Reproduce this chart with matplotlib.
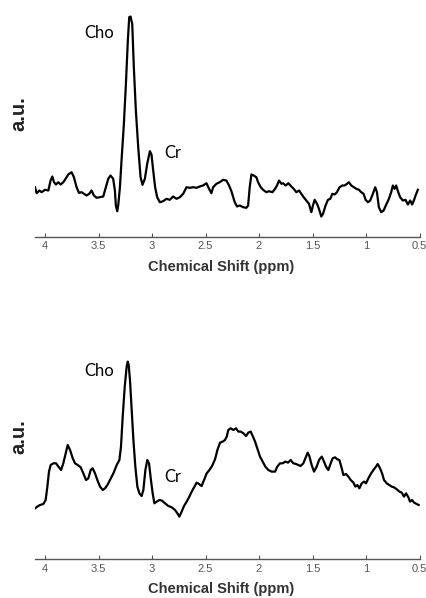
import matplotlib
matplotlib.use('Agg')
import matplotlib.pyplot as plt

# spectrum 1 (top): chemical shift in ppm and signal in a.u.
top_ppm = [4.094, 4.078, 4.053, 4.032, 4.000, 3.969, 3.948, 3.932, 3.916, 3.898,
           3.876, 3.854, 3.829, 3.808, 3.783, 3.752, 3.730, 3.705, 3.683, 3.658,
           3.636, 3.612, 3.587, 3.565, 3.543, 3.518, 3.487, 3.456, 3.431, 3.409,
           3.388, 3.363, 3.347, 3.338, 3.325, 3.316, 3.300, 3.285, 3.263, 3.244,
           3.226, 3.213, 3.201, 3.185, 3.170, 3.151, 3.129, 3.107, 3.089, 3.067,
           3.045, 3.020, 3.005, 2.989, 2.971, 2.952, 2.927, 2.896, 2.865, 2.834,
           2.803, 2.771, 2.740, 2.709, 2.678, 2.647, 2.616, 2.585, 2.554, 2.523,
           2.491, 2.467, 2.445, 2.429, 2.398, 2.367, 2.336, 2.305, 2.280, 2.258,
           2.227, 2.205, 2.180, 2.149, 2.118, 2.102, 2.087, 2.071, 2.050, 2.025,
           2.009, 1.984, 1.962, 1.931, 1.906, 1.875, 1.850, 1.832, 1.813, 1.791,
           1.776, 1.751, 1.726, 1.698, 1.676, 1.651, 1.626, 1.605, 1.583, 1.558,
           1.533, 1.511, 1.496, 1.480, 1.458, 1.440, 1.418, 1.402, 1.378, 1.356,
           1.334, 1.315, 1.294, 1.272, 1.247, 1.222, 1.200, 1.178, 1.160, 1.138,
           1.113, 1.091, 1.066, 1.045, 1.023, 1.004, 0.982, 0.961, 0.936, 0.914,
           0.898, 0.880, 0.858, 0.836, 0.811, 0.786, 0.765, 0.749, 0.733, 0.718,
           0.699, 0.681, 0.656, 0.631, 0.609, 0.587, 0.569, 0.553, 0.537, 0.516]
top_amp = [49.3, 43.3, 46.0, 44.3, 46.7, 46.0, 56.0, 60.0, 54.3, 52.0,
           54.3, 52.0, 54.3, 57.7, 62.0, 64.3, 59.3, 49.3, 43.7, 44.3,
           42.7, 41.0, 42.7, 46.0, 41.0, 38.7, 39.3, 40.0, 49.3, 57.7,
           61.0, 57.7, 46.0, 31.0, 25.3, 31.0, 49.3, 76.0, 112.7, 152.7,
           196.0, 219.3, 220.0, 212.7, 169.3, 126.0, 89.3, 59.3, 51.7, 57.7,
           72.7, 85.3, 82.0, 66.0, 49.3, 39.3, 34.3, 35.3, 37.7, 36.7,
           40.0, 37.7, 39.3, 42.7, 49.3, 48.7, 49.3, 48.7, 50.0, 51.0,
           53.3, 47.7, 43.3, 49.3, 52.7, 54.3, 56.7, 56.0, 51.0, 45.3,
           34.3, 30.0, 31.0, 29.3, 28.7, 31.0, 49.3, 62.0, 61.0, 59.3,
           54.3, 49.3, 46.7, 44.3, 45.3, 44.3, 47.7, 51.0, 56.0, 52.7,
           53.3, 51.0, 53.3, 50.0, 47.7, 44.3, 46.0, 42.7, 39.3, 36.0,
           32.7, 24.3, 31.0, 36.7, 32.7, 27.7, 20.0, 22.7, 31.0, 36.7,
           37.7, 42.7, 42.0, 44.3, 49.3, 51.0, 51.0, 52.7, 54.3, 51.0,
           49.3, 47.7, 46.7, 44.3, 42.7, 36.7, 34.3, 36.0, 42.7, 49.3,
           44.3, 29.3, 24.3, 26.0, 32.0, 37.7, 44.3, 51.0, 47.7, 51.0,
           44.3, 39.3, 36.0, 36.7, 32.0, 36.0, 32.0, 36.0, 41.0, 46.7]

# spectrum 2 (bottom)
bot_ppm = [4.093, 4.072, 4.047, 4.016, 3.994, 3.978, 3.963, 3.947, 3.922, 3.897,
           3.875, 3.850, 3.829, 3.807, 3.788, 3.766, 3.741, 3.720, 3.695, 3.667,
           3.642, 3.617, 3.595, 3.573, 3.555, 3.533, 3.511, 3.486, 3.461, 3.439,
           3.417, 3.393, 3.361, 3.330, 3.305, 3.290, 3.274, 3.255, 3.237, 3.227,
           3.218, 3.206, 3.190, 3.174, 3.156, 3.137, 3.118, 3.097, 3.081, 3.062,
           3.044, 3.028, 3.012, 2.994, 2.978, 2.956, 2.931, 2.907, 2.879, 2.847,
           2.816, 2.785, 2.763, 2.745, 2.723, 2.701, 2.676, 2.651, 2.629, 2.607,
           2.583, 2.561, 2.536, 2.514, 2.489, 2.464, 2.439, 2.411, 2.389, 2.364,
           2.340, 2.318, 2.302, 2.287, 2.265, 2.240, 2.215, 2.193, 2.171, 2.146,
           2.121, 2.100, 2.078, 2.059, 2.037, 2.016, 1.991, 1.966, 1.941, 1.913,
           1.882, 1.850, 1.829, 1.804, 1.779, 1.754, 1.729, 1.704, 1.679, 1.654,
           1.632, 1.611, 1.586, 1.561, 1.545, 1.530, 1.508, 1.486, 1.461, 1.439,
           1.414, 1.399, 1.374, 1.352, 1.330, 1.312, 1.290, 1.268, 1.249, 1.227,
           1.212, 1.187, 1.165, 1.143, 1.118, 1.100, 1.081, 1.062, 1.040, 1.019,
           1.000, 0.978, 0.956, 0.931, 0.907, 0.891, 0.869, 0.850, 0.832, 0.807,
           0.782, 0.760, 0.738, 0.713, 0.688, 0.667, 0.645, 0.626, 0.604, 0.589,
           0.570, 0.551, 0.526, 0.508]
bot_amp = [51.0, 52.7, 54.3, 55.3, 59.3, 72.7, 87.7, 94.3, 96.0, 96.0,
           92.7, 89.3, 96.0, 106.0, 114.3, 109.3, 101.0, 96.0, 94.3, 92.0,
           86.0, 79.3, 81.0, 89.3, 91.0, 86.0, 79.3, 72.7, 69.3, 71.0,
           74.3, 79.3, 86.0, 94.3, 99.3, 112.7, 142.7, 172.7, 192.7, 197.7,
           194.3, 179.3, 149.3, 119.3, 92.7, 72.7, 66.0, 63.3, 69.3, 89.3,
           99.3, 96.0, 81.0, 66.0, 56.0, 57.7, 59.3, 58.7, 56.0, 53.3,
           52.0, 49.3, 46.0, 42.7, 47.7, 53.3, 57.7, 62.7, 67.7, 72.0,
           76.7, 75.3, 73.3, 79.3, 86.0, 89.3, 93.3, 100.0, 109.3, 116.7,
           117.7, 119.3, 122.7, 129.3, 131.0, 129.3, 131.0, 127.7, 127.7, 126.0,
           123.3, 126.7, 127.7, 123.3, 117.7, 111.0, 102.7, 97.7, 92.7, 89.3,
           87.7, 87.7, 92.7, 96.0, 96.0, 97.7, 96.7, 99.3, 96.0, 95.3,
           94.3, 93.3, 96.0, 102.7, 106.7, 103.3, 94.3, 87.7, 92.7, 99.3,
           102.7, 99.3, 92.7, 89.3, 96.0, 101.0, 102.0, 100.0, 99.3, 91.0,
           84.3, 85.3, 82.7, 79.3, 76.7, 72.7, 74.3, 71.0, 76.0, 77.7,
           76.0, 81.0, 85.3, 89.3, 92.7, 95.3, 91.0, 86.0, 79.3, 76.0,
           74.3, 72.7, 72.0, 70.0, 67.7, 66.7, 62.7, 66.0, 62.0, 57.7,
           59.3, 56.7, 55.3, 54.3]

tick_vals = [4, 3.5, 3, 2.5, 2, 1.5, 1, 0.5]
tick_labels = ['4', '3.5', '3', '2.5', '2', '1.5', '1', '0.5']

# peak labels: (text, ppm, a.u.) for each panel
top_peaks = [('Cho', 3.495, 203.5), ('Cr', 2.804, 83.5)]
bot_peaks = [('Cho', 3.495, 188.3), ('Cr', 2.804, 82.3)]

assert len(top_ppm) == len(top_amp)
assert len(bot_ppm) == len(bot_amp)

fig = plt.figure(figsize=(4.27, 5.98), dpi=100)
ax_top = fig.add_axes([0.082, 0.6045, 0.9005, 0.3863])
ax_bot = fig.add_axes([0.082, 0.0647, 0.9005, 0.3863])

for ax, ppm, amp, peaks in [(ax_top, top_ppm, top_amp, top_peaks),
                            (ax_bot, bot_ppm, bot_amp, bot_peaks)]:
    ax.plot(ppm, amp, color='black', lw=1.6, solid_joinstyle='round')
    ax.set_xlim(4.0935, 0.5)
    ax.set_ylim(0, 231)
    for side in ['top', 'left', 'right']:
        ax.spines[side].set_visible(False)
    ax.spines['bottom'].set_color('#555555')
    ax.spines['bottom'].set_linewidth(1.0)
    ax.set_yticks([])
    ax.set_xticks(tick_vals)
    ax.set_xticklabels(tick_labels, family='Liberation Sans', fontsize=8, color='#555555')
    ax.tick_params(axis='x', direction='in', length=3, width=0.8, color='#555555', pad=3.5)
    ax.set_xlabel('Chemical Shift (ppm)', family='Liberation Sans', fontweight='bold',
                  fontsize=10.5, color='#333333')
    ax.xaxis.set_label_coords(0.485, -0.10)
    ax.text(-0.043, 0.53, 'a.u.', transform=ax.transAxes, rotation=90,
            ha='center', va='center', family='Liberation Sans', fontweight='bold',
            fontsize=14.5, color='#222222')
    for name, x, y in peaks:
        ax.text(x, y, name, ha='center', va='center', family='Lato', fontsize=12,
                color='black')

fig.savefig('out.png', dpi=100)
